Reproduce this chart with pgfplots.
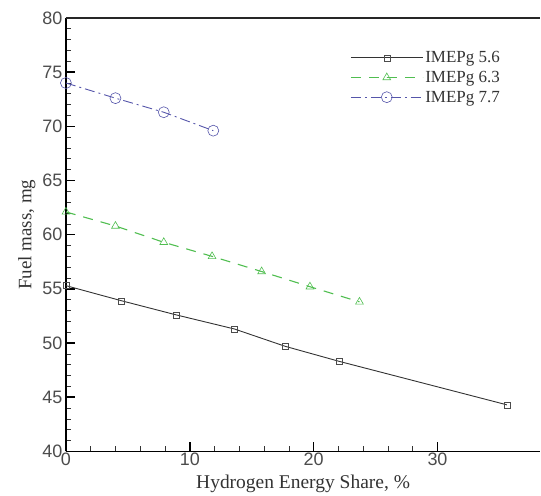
\documentclass[border=0pt]{standalone}
\usepackage{pgfplots}
\pgfplotsset{compat=1.18}
\usepackage{fontspec}
\setmainfont{Liberation Serif}
\newfontfamily\arial{Liberation Sans}
\definecolor{cgreen}{RGB}{80,190,80}
\definecolor{cblue}{RGB}{85,85,170}
\begin{document}
\begin{tikzpicture}
\begin{axis}[
  scale only axis,
  width=475pt, height=434pt,
  xmin=0, xmax=38.3, ymin=40, ymax=80,
  axis x line*=bottom,
  axis y line*=left,
  axis line style={line width=1.4pt, -},
  xtick={0,10,20,30}, ytick={40,45,...,80},
  minor x tick num=4, minor y tick num=4,
  tick align=inside,
  xtick pos=bottom, ytick pos=left,
  major tick length=9pt, minor tick length=5pt,
  major tick style={line width=1.6pt, black},
  minor tick style={line width=0.7pt, black!80},
  /pgf/number format/assume math mode=true,
  tick label style={font=\arial\fontsize{18}{20}\selectfont, text=black!70},
  xticklabel style={yshift=2pt},
  xlabel={\rmfamily Hydrogen Energy Share, \%},
  ylabel={\rmfamily Fuel mass, mg},
  xlabel style={at={(ticklabel cs:0.5)}, anchor=north, font=\rmfamily\fontsize{19.5}{22}\selectfont, text=black!80, yshift=-2pt},
  ylabel style={at={(ticklabel cs:0.5)}, anchor=south, font=\rmfamily\fontsize{19}{22}\selectfont, text=black!80, yshift=0pt},
  legend style={draw=none, fill=none, at={(axis cs:22.7,77.3)}, anchor=north west,
    font=\rmfamily\fontsize{17}{19}\selectfont, row sep=3pt, text=black!80},
  legend cell align=left,
  legend image code/.code={\draw[mark repeat=2,mark phase=2] plot coordinates {(0pt,0pt) (36pt,0pt) (72pt,0pt)};},
]
\addplot[black!80, line width=0.9pt, mark=square, mark size=3pt, mark options={solid, line width=0.5pt, black!70}]
 coordinates {(0,55.3) (4.5,53.9) (8.9,52.6) (13.6,51.3) (17.7,49.7) (22.1,48.3) (35.6,44.3)};
\addlegendentry{IMEPg 5.6}
\addplot[cgreen, line width=1.1pt, dash pattern=on 10pt off 8pt, mark=triangle, mark size=4.5pt, mark options={solid, line width=0.6pt}]
 coordinates {(0,62.1) (4.0,60.8) (7.9,59.3) (11.8,58.0) (15.8,56.6) (19.7,55.2) (23.7,53.8)};
\addlegendentry{IMEPg 6.3}
\addplot[cblue, line width=0.9pt, dash pattern=on 10pt off 4pt on 2pt off 4pt, mark=o, mark size=5.5pt, mark options={solid, line width=0.6pt}]
 coordinates {(0,74.0) (4.0,72.6) (7.9,71.3) (11.9,69.6)};
\addlegendentry{IMEPg 7.7}
\draw[line width=1.4pt, black!85] (rel axis cs:0,1) -- (rel axis cs:1,1);
\coordinate (tl) at (rel axis cs:0,1);
\end{axis}
\path (tl) ++(-66pt,18pt);
\end{tikzpicture}
\end{document}
